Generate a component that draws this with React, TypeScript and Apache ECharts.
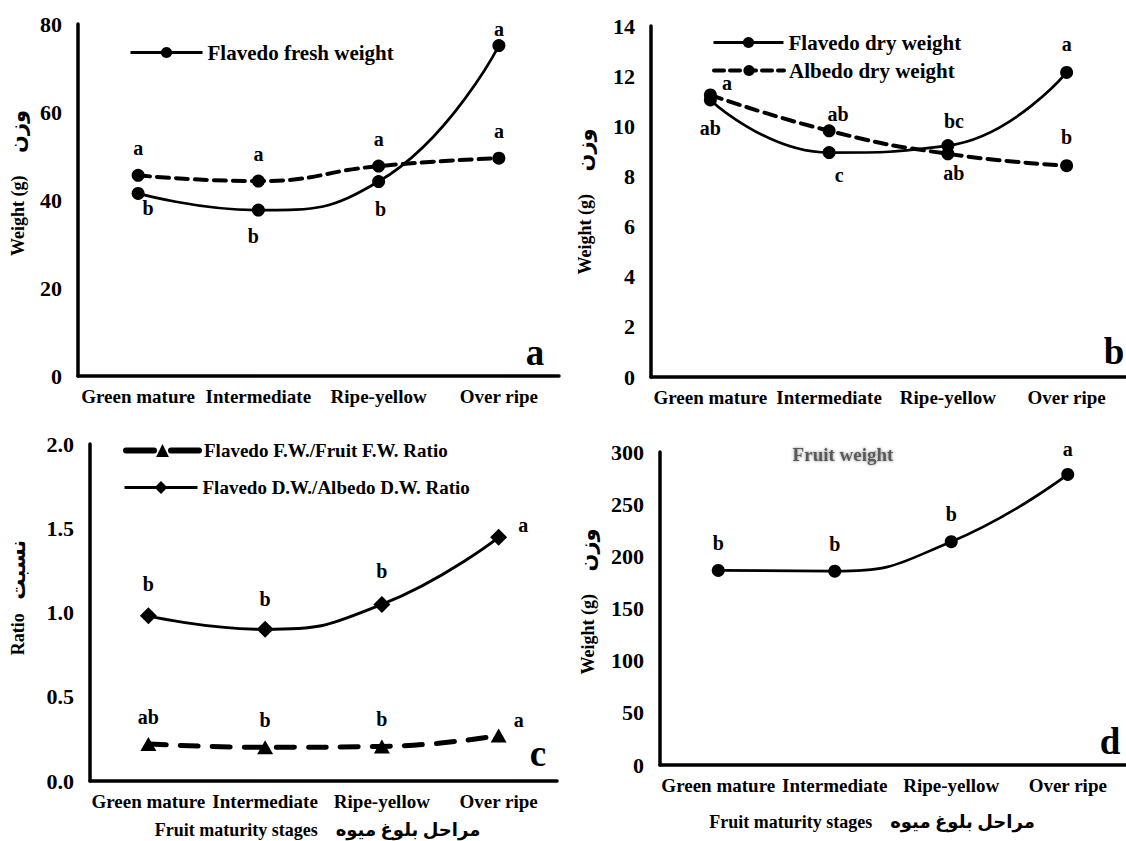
import React, { useEffect, useRef } from "react";
import * as echarts from "echarts";

// ---------------- data ----------------
const stages = ["Green mature", "Intermediate", "Ripe-yellow", "Over ripe"];

// panel a (fresh weight, g)
const flavedoFresh = [41.5, 37.7, 44.2, 75.1];
const flavedoFreshLetters = ["b", "b", "b", "a"];
const albedoFresh = [45.6, 44.3, 47.7, 49.5];
const albedoFreshLetters = ["a", "a", "a", "a"];

// panel b (dry weight, g)
const flavedoDry = [11.05, 8.95, 9.23, 12.15];
const flavedoDryLetters = ["ab", "c", "bc", "a"];
const albedoDry = [11.25, 9.82, 8.9, 8.43];
const albedoDryLetters = ["a", "ab", "ab", "b"];

// panel c (ratios)
const fwRatio = [0.22, 0.2, 0.205, 0.27];
const fwRatioLetters = ["ab", "b", "b", "a"];
const dwRatio = [0.98, 0.9, 1.048, 1.446];
const dwRatioLetters = ["b", "b", "b", "a"];

// panel d (fruit weight, g)
const fruitWeight = [186.5, 185.8, 214, 278.5];
const fruitWeightLetters = ["b", "b", "b", "a"];

// axis tick settings
const yMaxA = 80, yStepA = 20;
const yMaxB = 14, yStepB = 2;
const yMaxC = 2, yStepC = 0.5;
const yMaxD = 300, yStepD = 50;

const panelLetters = ["a", "b", "c", "d"];
const weightName = "{en|Weight (g)}     {ar|وزن}";
const ratioName = "{en|Ratio}   {ar|نسبت}";
const stagesName = "Fruit maturity stages    مراحل بلوغ میوه";

// ---------------- styling ----------------
const FONT = "'Liberation Serif', 'Times New Roman', 'DejaVu Sans', serif";

type Place = [string, number, number, number];

function pts(values: number[], letters: string[], places: Place[]) {
  return values.map((v, i) => ({
    value: v,
    label: {
      formatter: letters[i],
      position: places[i][0],
      distance: places[i][1],
      offset: [places[i][2], places[i][3]],
    },
  }));
}

const baseLabel = {
  show: true,
  color: "#000",
  fontFamily: FONT,
  fontWeight: "bold",
  fontSize: 20,
};

function xAxis(idx: number, name?: string, gap?: number, pad?: number[]) {
  return {
    gridIndex: idx,
    type: "category",
    data: stages,
    boundaryGap: true,
    axisLine: { lineStyle: { color: "#000", width: 3.5 } },
    axisTick: { show: false },
    axisLabel: {
      color: "#000",
      fontFamily: FONT,
      fontWeight: "bold",
      fontSize: 19,
      margin: 11,
      interval: 0,
    },
    name: name || "",
    nameLocation: "middle",
    nameGap: gap || 0,
    nameTextStyle: {
      color: "#000",
      fontFamily: FONT,
      fontWeight: "bold",
      fontSize: 18,
      padding: pad || 0,
    },
  };
}

function yAxis(idx: number, max: number, step: number, name: string, gap: number, pad: number[], decimals: number) {
  return {
    gridIndex: idx,
    type: "value",
    min: 0,
    max,
    interval: step,
    axisLine: { show: true, lineStyle: { color: "#000", width: 3.5 } },
    axisTick: { show: false },
    splitLine: { show: false },
    axisLabel: {
      color: "#000",
      fontFamily: FONT,
      fontWeight: "bold",
      fontSize: 22,
      margin: 16,
      formatter: (v: number) => v.toFixed(decimals),
    },
    name,
    nameLocation: "middle",
    nameRotate: 90,
    nameGap: gap,
    nameTextStyle: {
      color: "#000",
      fontFamily: FONT,
      fontWeight: "bold",
      fontSize: 18,
      padding: pad,
      rich: {
        en: { fontFamily: FONT, fontWeight: "bold", fontSize: 18, color: "#000" },
        ar: { fontFamily: FONT, fontWeight: "bold", fontSize: 21, color: "#000" },
      },
    },
  };
}

function legend(name: string, left: number, top: number, w: number, h: number, fs: number, line: any) {
  return {
    data: [name],
    left,
    top,
    padding: 0,
    itemWidth: w,
    itemHeight: h,
    selectedMode: false,
    lineStyle: line,
    textStyle: { color: "#000", fontFamily: FONT, fontWeight: "bold", fontSize: fs },
  };
}

function letter(t: string, x: number, y: number) {
  return {
    type: "text",
    x,
    y,
    silent: true,
    style: {
      text: t,
      fill: "#000",
      font: `bold 37px ${FONT}`,
      textAlign: "center",
      textVerticalAlign: "middle",
    },
  };
}

export default function App() {
  const ref = useRef<HTMLDivElement>(null);

  useEffect(() => {
    if (!ref.current) return;
    const chart = echarts.init(ref.current, null, { renderer: "svg" });

    const solid = (w: number) => ({ color: "#000", width: w, type: "solid" });
    const dashed = (w: number, d: number[]) => ({ color: "#000", width: w, type: d, cap: "round" });

    const option: any = {
      animation: false,
      backgroundColor: "#fff",
      grid: [
        { left: 78, top: 24, width: 481, height: 352, outerBoundsMode: "none", containLabel: false },
        { left: 651, top: 26, width: 475, height: 351, outerBoundsMode: "none", containLabel: false },
        { left: 90, top: 444, width: 467, height: 337, outerBoundsMode: "none", containLabel: false },
        { left: 660, top: 452, width: 466, height: 313, outerBoundsMode: "none", containLabel: false },
      ],
      xAxis: [
        xAxis(0),
        xAxis(1),
        xAxis(2, stagesName, 40, [0, 12, 0, 0]),
        xAxis(3, stagesName, 48, [0, 42, 0, 0]),
      ],
      yAxis: [
        yAxis(0, yMaxA, yStepA, weightName, 50, [0, 0, 0, 34], 0),
        yAxis(1, yMaxB, yStepB, weightName, 56, [0, 0, 0, 0], 0),
        yAxis(2, yMaxC, yStepC, ratioName, 62, [0, 0, 0, 30], 1),
        yAxis(3, yMaxD, yStepD, weightName, 62, [0, 0, 0, 14], 0),
      ],
      legend: [
        legend("Flavedo fresh weight", 129, 42, 72, 14, 21, { width: 3 }),
        legend("Flavedo dry weight", 712, 32, 70, 14, 21, { width: 3 }),
        legend("Albedo dry weight", 712, 60, 70, 14, 21, { width: 4, type: [10, 6] }),
        legend("Flavedo F.W./Fruit F.W. Ratio", 123, 441, 73, 16, 19, { width: 6, type: [28, 17], cap: "round" }),
        legend("Flavedo D.W./Albedo D.W. Ratio", 123, 478, 73, 16, 19, { width: 3 }),
      ],
      graphic: [
        letter(panelLetters[0], 535, 352),
        letter(panelLetters[1], 1114, 351),
        letter(panelLetters[2], 538, 753),
        letter(panelLetters[3], 1110, 741),
        {
          type: "text",
          x: 843,
          y: 454,
          silent: true,
          style: {
            text: "Fruit weight",
            fill: "#5a5a5a",
            font: `bold 19px ${FONT}`,
            textAlign: "center",
            textVerticalAlign: "middle",
            textShadowColor: "rgba(0,0,0,0.45)",
            textShadowBlur: 3,
          },
        },
      ],
      series: [
        {
          name: "Albedo fresh weight",
          type: "line",
          xAxisIndex: 0,
          yAxisIndex: 0,
          smooth: true,
          symbol: "circle",
          symbolSize: 13,
          itemStyle: { color: "#000" },
          lineStyle: dashed(4, [12, 7]),
          label: baseLabel,
          data: pts(albedoFresh, albedoFreshLetters, [
            ["top", 11, 0, 0],
            ["top", 11, 0, 0],
            ["top", 11, 0, 0],
            ["top", 11, 0, 0],
          ]),
        },
        {
          name: "Flavedo fresh weight",
          type: "line",
          xAxisIndex: 0,
          yAxisIndex: 0,
          smooth: true,
          symbol: "circle",
          symbolSize: 13,
          itemStyle: { color: "#000" },
          lineStyle: solid(2.7),
          label: baseLabel,
          data: pts(flavedoFresh, flavedoFreshLetters, [
            ["bottom", 0, 10, -2],
            ["bottom", 9, -5, 0],
            ["bottom", 11, 2, 0],
            ["top", 0, 0, 0],
          ]),
        },
        {
          name: "Flavedo dry weight",
          type: "line",
          xAxisIndex: 1,
          yAxisIndex: 1,
          smooth: true,
          symbol: "circle",
          symbolSize: 13,
          itemStyle: { color: "#000" },
          lineStyle: solid(2.7),
          label: baseLabel,
          data: pts(flavedoDry, flavedoDryLetters, [
            ["bottom", 12, 0, 0],
            ["bottom", 6, 10, 0],
            ["top", 8, 6, 0],
            ["top", 12, 0, 0],
          ]),
        },
        {
          name: "Albedo dry weight",
          type: "line",
          xAxisIndex: 1,
          yAxisIndex: 1,
          smooth: true,
          symbol: "circle",
          symbolSize: 13,
          itemStyle: { color: "#000" },
          lineStyle: dashed(4, [12, 7]),
          label: baseLabel,
          data: pts(albedoDry, albedoDryLetters, [
            ["right", 5, 0, -12],
            ["top", 0, 9, 0],
            ["bottom", 3, 6, 0],
            ["top", 12, 0, 0],
          ]),
        },
        {
          name: "Flavedo F.W./Fruit F.W. Ratio",
          type: "line",
          xAxisIndex: 2,
          yAxisIndex: 2,
          smooth: true,
          symbol: "triangle",
          symbolSize: [16, 14],
          itemStyle: { color: "#000" },
          lineStyle: dashed(5, [18, 14]),
          label: baseLabel,
          data: pts(fwRatio, fwRatioLetters, [
            ["top", 10, 0, 0],
            ["top", 10, 0, 0],
            ["top", 10, 0, 0],
            ["right", 7, 0, -16],
          ]),
        },
        {
          name: "Flavedo D.W./Albedo D.W. Ratio",
          type: "line",
          xAxisIndex: 2,
          yAxisIndex: 2,
          smooth: true,
          symbol: "diamond",
          symbolSize: [17, 17],
          itemStyle: { color: "#000" },
          lineStyle: solid(3),
          label: baseLabel,
          data: pts(dwRatio, dwRatioLetters, [
            ["top", 13, 0, 0],
            ["top", 12, 0, 0],
            ["top", 15, 0, 0],
            ["right", 11, 0, -12],
          ]),
        },
        {
          name: "Fruit weight",
          type: "line",
          xAxisIndex: 3,
          yAxisIndex: 3,
          smooth: true,
          symbol: "circle",
          symbolSize: 13,
          itemStyle: { color: "#000" },
          lineStyle: solid(2.7),
          label: baseLabel,
          data: pts(fruitWeight, fruitWeightLetters, [
            ["top", 11, 0, 0],
            ["top", 11, 0, 0],
            ["top", 11, 0, 0],
            ["top", 9, 0, 0],
          ]),
        },
      ],
    };

    chart.setOption(option);
    return () => chart.dispose();
  }, []);

  return (
    <div
      ref={ref}
      style={{ position: "absolute", left: 0, top: 0, width: 1126, height: 841, background: "#fff" }}
    />
  );
}
